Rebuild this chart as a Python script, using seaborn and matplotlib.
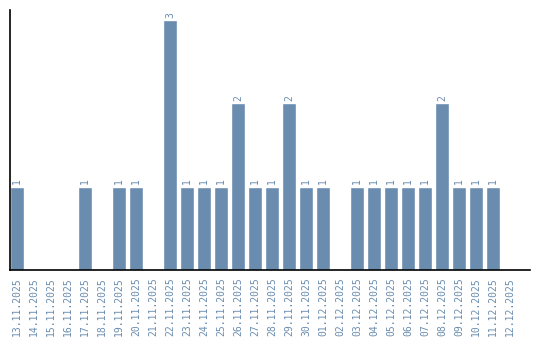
import matplotlib
matplotlib.use("Agg")
import matplotlib.pyplot as plt
import seaborn as sns
import pandas as pd

dates = ["13.11.2025", "14.11.2025", "15.11.2025", "16.11.2025", "17.11.2025",
         "18.11.2025", "19.11.2025", "20.11.2025", "21.11.2025", "22.11.2025",
         "23.11.2025", "24.11.2025", "25.11.2025", "26.11.2025", "27.11.2025",
         "28.11.2025", "29.11.2025", "30.11.2025", "01.12.2025", "02.12.2025",
         "03.12.2025", "04.12.2025", "05.12.2025", "06.12.2025", "07.12.2025",
         "08.12.2025", "09.12.2025", "10.12.2025", "11.12.2025", "12.12.2025"]
counts = [1, 0, 0, 0, 1, 0, 1, 1, 0, 3,
          1, 1, 1, 2, 1, 1, 2, 1, 1, 0,
          1, 1, 1, 1, 1, 2, 1, 1, 1, 0]

df = pd.DataFrame({"date": dates, "count": counts})
color = "#6a8caf"

sns.set_style("white")
fig = plt.figure(figsize=(5.4, 3.4), dpi=100)
ax = fig.add_axes([10/540, 70/340, 520/540, 260/340])
sns.barplot(data=df, x="date", y="count", color=color, width=0.82,
            saturation=1, ax=ax)

for i, v in enumerate(counts):
    if v > 0:
        ax.text(i, v + 0.03, str(v), rotation=90, ha="center", va="bottom",
                fontsize=7, color=color, family="DejaVu Sans Mono")

ax.set_xlim(-0.41, 30.18)
ax.set_ylim(0, 3.12)
ax.set_xlabel("")
ax.set_ylabel("")
ax.set_yticks([])
ax.tick_params(axis="x", length=0, pad=5, labelcolor=color)
for lab in ax.get_xticklabels():
    lab.set_rotation(90)
    lab.set_fontfamily("DejaVu Sans Mono")
    lab.set_fontsize(7)
for s in ["top", "right"]:
    ax.spines[s].set_visible(False)
for s in ["left", "bottom"]:
    ax.spines[s].set_color("black")
    ax.spines[s].set_linewidth(1.2)

fig.savefig("out.png", dpi=100)
